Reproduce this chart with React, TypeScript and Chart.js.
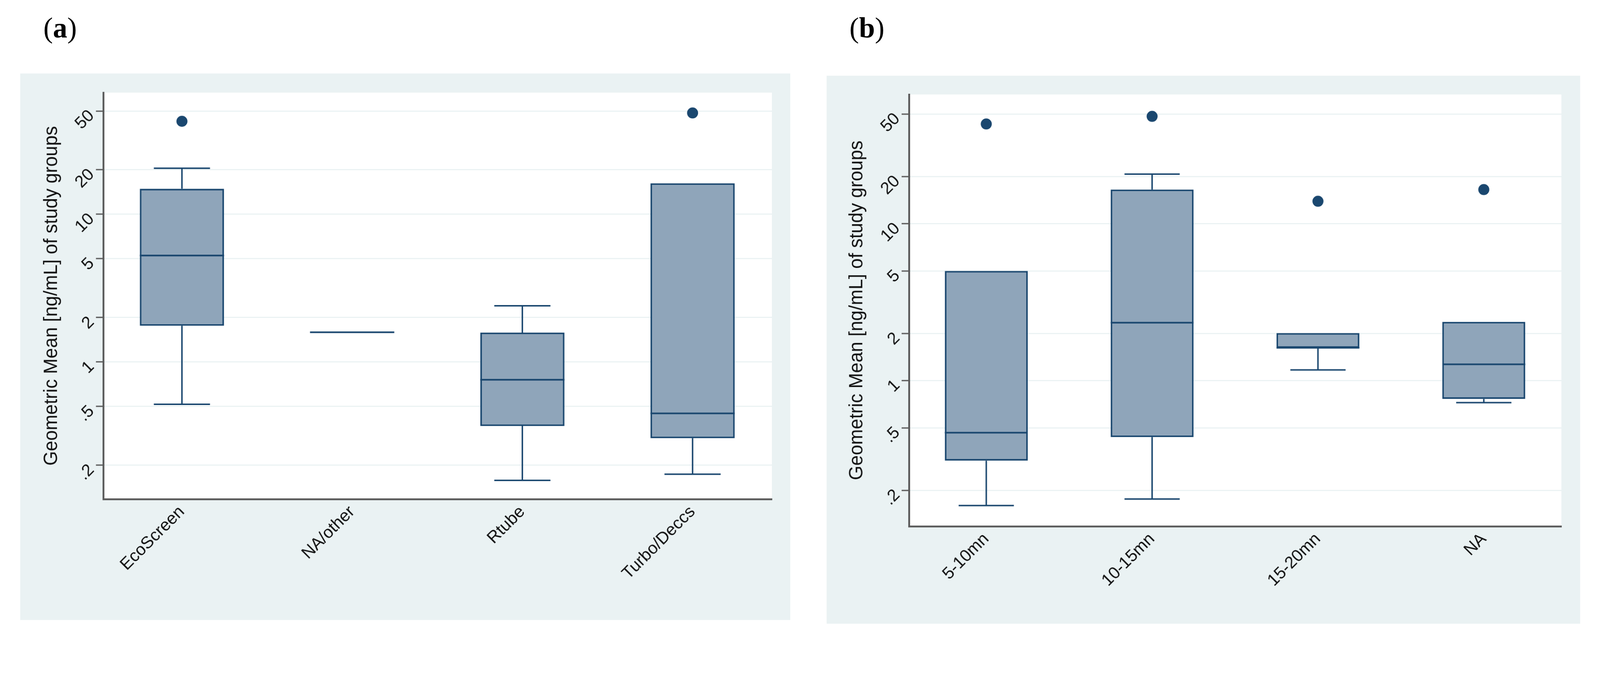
import React, { useEffect, useRef } from 'react';
import { Chart, registerables } from 'chart.js';

Chart.register(...registerables);

// ---------- data ----------
const yTickValues = [0.2, 0.5, 1, 2, 5, 10, 20, 50];
const yTickLabels = ['.2', '.5', '1', '2', '5', '10', '20', '50'];
const yTitle = 'Geometric Mean [ng/mL] of study groups';

// Panel (a): sampling device
const catsA = ['EcoScreen', 'NA/other', 'Rtube', 'Turbo/Deccs'];
const lowA = [0.517, 1.59, 0.158, 0.174];
const q1A = [1.76, 1.59, 0.369, 0.305];
const medA = [5.26, 1.59, 0.758, 0.449];
const q3A = [14.9, 1.59, 1.58, 16.2];
const highA = [20.5, 1.59, 2.4, 16.2];
const outCatA = [0, 3];
const outValA = [42.6, 48.5];

// Panel (b): sampling duration
const catsB = ['5-10mn', '10-15mn', '15-20mn', 'NA'];
const lowB = [0.16, 0.176, 1.17, 0.724];
const q1B = [0.309, 0.437, 1.62, 0.764];
const medB = [0.466, 2.34, 1.62, 1.27];
const q3B = [5.0, 16.5, 2.01, 2.37];
const highB = [5.0, 20.7, 2.01, 2.37];
const outCatB = [0, 1, 2, 3];
const outValB = [43.2, 48.3, 13.9, 16.5];

// ---------- styles ----------
const OUTER_BG = '#EAF2F3';
const GRID = '#EAF2F3';
const NAVY = '#1A476F';
const BOX_FILL = '#8FA5BA';
const AXIS = '#5B5B5B';
const FONT = '"Liberation Sans", Arial, Helvetica, sans-serif';
const PAGE_W = 4353;
const PAGE_H = 1741;

type PanelSpec = {
  label: string;
  labelLeft: number;
  left: number;
  top: number;
  width: number;
  height: number;
  padTop: number;
  padRight: number;
  yAxisWidth: number;
  xAxisHeight: number;
  titlePad: number;
  xMin: number;
  xMax: number;
  boxFrac: number;
  capFrac: number;
  cats: string[];
  low: number[];
  q1: number[];
  med: number[];
  q3: number[];
  high: number[];
  outCat: number[];
  outVal: number[];
};

const bgPlugin = {
  id: 'panelBg',
  beforeDraw(chart: any) {
    const { ctx, chartArea, width, height } = chart;
    ctx.save();
    ctx.fillStyle = OUTER_BG;
    ctx.fillRect(0, 0, width, height);
    ctx.fillStyle = '#FFFFFF';
    ctx.fillRect(chartArea.left, chartArea.top, chartArea.right - chartArea.left, chartArea.bottom - chartArea.top);
    ctx.restore();
  },
};

function buildConfig(s: PanelSpec): any {
  const boxHalf = s.boxFrac / 2;
  const capHalf = s.capFrac / 2;
  const whiskers: any[] = [];
  const caps: any[] = [];
  const medians: any[] = [];
  s.cats.forEach((_, i) => {
    if (s.high[i] > s.q3[i]) {
      whiskers.push({ x: i, y: s.q3[i] }, { x: i, y: s.high[i] }, { x: i, y: null });
      caps.push({ x: i - capHalf, y: s.high[i] }, { x: i + capHalf, y: s.high[i] }, { x: i, y: null });
    }
    if (s.low[i] < s.q1[i]) {
      whiskers.push({ x: i, y: s.q1[i] }, { x: i, y: s.low[i] }, { x: i, y: null });
      caps.push({ x: i - capHalf, y: s.low[i] }, { x: i + capHalf, y: s.low[i] }, { x: i, y: null });
    }
    medians.push({ x: i - boxHalf, y: s.med[i] }, { x: i + boxHalf, y: s.med[i] }, { x: i, y: null });
  });
  const lineBase = {
    type: 'line',
    showLine: true,
    spanGaps: false,
    pointRadius: 0,
    pointHoverRadius: 0,
    fill: false,
    tension: 0,
    borderColor: NAVY,
    borderCapStyle: 'butt',
  };
  return {
    type: 'bar',
    data: {
      datasets: [
        {
          type: 'bar',
          label: 'box',
          data: s.cats.map((_, i) => ({ x: i, y: [s.q1[i], s.q3[i]] })),
          backgroundColor: BOX_FILL,
          borderColor: NAVY,
          borderWidth: 4.5,
          borderSkipped: false,
          barPercentage: s.boxFrac,
          categoryPercentage: 1,
          grouped: false,
          order: 3,
        },
        { ...lineBase, label: 'whisker', data: whiskers, borderWidth: 4, order: 2 },
        { ...lineBase, label: 'cap', data: caps, borderWidth: 4, order: 2 },
        { ...lineBase, label: 'median', data: medians, borderWidth: 4.5, order: 1 },
        {
          type: 'scatter',
          label: 'outside values',
          data: s.outCat.map((c, k) => ({ x: c, y: s.outVal[k] })),
          pointRadius: 15,
          pointHoverRadius: 15,
          pointBackgroundColor: NAVY,
          pointBorderWidth: 0,
          backgroundColor: NAVY,
          borderWidth: 0,
          order: 0,
        },
      ],
    },
    options: {
      responsive: false,
      animation: false,
      devicePixelRatio: 1,
      layout: { padding: { top: s.padTop, right: s.padRight, left: 0, bottom: 0 } },
      plugins: { legend: { display: false }, tooltip: { enabled: false } },
      events: [],
      scales: {
        x: {
          type: 'linear',
          min: s.xMin,
          max: s.xMax,
          offset: false,
          grid: { display: false, drawTicks: false },
          border: { display: true, color: AXIS, width: 5 },
          ticks: {
            autoSkip: false,
            minRotation: 45,
            maxRotation: 45,
            padding: 8,
            labelOffset: 0,
            color: '#111111',
            font: { family: FONT, size: 46 },
            callback: (v: number) => (s.cats[v] !== undefined ? s.cats[v] : ''),
          },
          afterBuildTicks: (sc: any) => {
            sc.ticks = s.cats.map((_, i) => ({ value: i }));
          },
          afterFit: (sc: any) => {
            sc.height = s.xAxisHeight;
          },
        },
        y: {
          type: 'logarithmic',
          position: 'left',
          min: 0.118,
          max: 66.6,
          grid: {
            color: GRID,
            lineWidth: 3,
            drawTicks: true,
            tickLength: 20,
            tickColor: AXIS,
            tickWidth: 3.5,
          },
          border: { display: true, color: AXIS, width: 5 },
          ticks: {
            autoSkip: false,
            minRotation: 45,
            maxRotation: 45,
            padding: 12,
            labelOffset: 6,
            color: '#111111',
            font: { family: FONT, size: 46 },
            callback: (v: number) => {
              const k = yTickValues.findIndex((t) => Math.abs(t - v) < 1e-9);
              return k >= 0 ? yTickLabels[k] : '';
            },
          },
          afterBuildTicks: (sc: any) => {
            sc.ticks = yTickValues.map((v) => ({ value: v }));
          },
          afterFit: (sc: any) => {
            sc.width = s.yAxisWidth;
          },
          title: {
            display: true,
            text: yTitle,
            color: '#111111',
            font: { family: FONT, size: 51, lineHeight: 1.2 },
            padding: { top: s.titlePad, bottom: 0 },
          },
        },
      },
    },
    plugins: [bgPlugin],
  };
}

const panelA: PanelSpec = {
  label: 'a',
  labelLeft: 118,
  left: 55,
  top: 200,
  width: 2095,
  height: 1487,
  padTop: 52,
  padRight: 50,
  yAxisWidth: 226,
  xAxisHeight: 329,
  titlePad: 55,
  xMin: -0.462,
  xMax: 3.466,
  boxFrac: 0.495,
  capFrac: 0.33,
  cats: catsA,
  low: lowA,
  q1: q1A,
  med: medA,
  q3: q3A,
  high: highA,
  outCat: outCatA,
  outVal: outValA,
};

const panelB: PanelSpec = {
  label: 'b',
  labelLeft: 2311,
  left: 2249,
  top: 206,
  width: 2050,
  height: 1491,
  padTop: 51,
  padRight: 51,
  yAxisWidth: 224,
  xAxisHeight: 265,
  titlePad: 52,
  xMin: -0.466,
  xMax: 3.468,
  boxFrac: 0.5,
  capFrac: 0.333,
  cats: catsB,
  low: lowB,
  q1: q1B,
  med: medB,
  q3: q3B,
  high: highB,
  outCat: outCatB,
  outVal: outValB,
};

function Panel({ spec }: { spec: PanelSpec }) {
  const ref = useRef<HTMLCanvasElement | null>(null);
  useEffect(() => {
    if (!ref.current) return;
    const chart = new Chart(ref.current, buildConfig(spec));
    return () => chart.destroy();
  }, [spec]);
  return (
    <>
      <div
        style={{
          position: 'absolute',
          left: spec.labelLeft,
          top: 37,
          fontFamily: '"Liberation Serif", "Times New Roman", serif',
          fontSize: 78,
          lineHeight: '78px',
          color: '#000',
          whiteSpace: 'nowrap',
        }}
      >
        (<b>{spec.label}</b>)
      </div>
      <canvas
        ref={ref}
        width={spec.width}
        height={spec.height}
        style={{
          position: 'absolute',
          left: spec.left,
          top: spec.top,
          width: spec.width,
          height: spec.height,
        }}
      />
    </>
  );
}

export default function App() {
  const vw = typeof window !== 'undefined' && window.innerWidth ? window.innerWidth : PAGE_W;
  const scale = Math.min(1, vw / PAGE_W);
  return (
    <div
      style={{
        position: 'absolute',
        left: 0,
        top: 0,
        width: PAGE_W,
        height: PAGE_H,
        background: '#FFFFFF',
        overflow: 'hidden',
        transform: `scale(${scale})`,
        transformOrigin: '0 0',
      }}
    >
      <Panel spec={panelA} />
      <Panel spec={panelB} />
    </div>
  );
}
